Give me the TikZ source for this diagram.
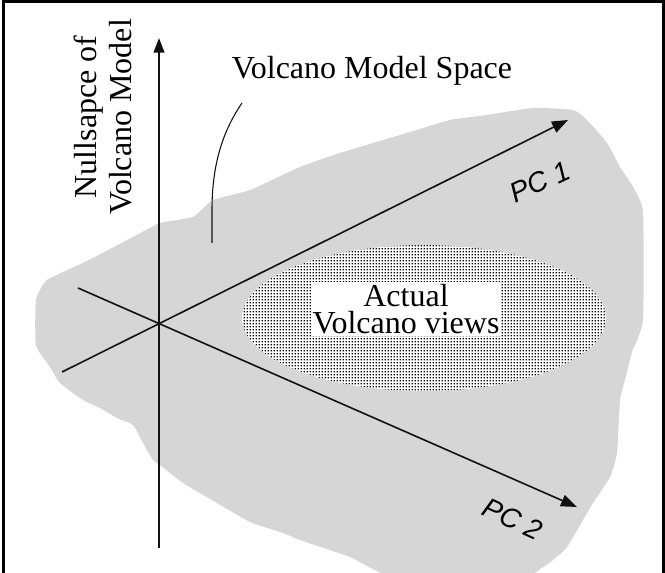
\documentclass[tikz,border=0pt]{standalone}
\usepackage{fontspec}
\setmainfont{Liberation Serif}
\newfontfamily\pcfont{Liberation Sans}
\usepackage{tikz}
\usetikzlibrary{arrows.meta,patterns}
\definecolor{volcgray}{HTML}{D6D6D6}
\definecolor{volcink}{HTML}{111111}
\pgfdeclarepatternformonly{viewdots}{\pgfpointorigin}{\pgfqpoint{2.4pt}{2.4pt}}{\pgfqpoint{2.4pt}{2.4pt}}{%
  \pgfpathrectangle{\pgfqpoint{0.7pt}{0.7pt}}{\pgfqpoint{1pt}{1pt}}\pgfusepath{fill}}
\tikzset{
  frame/.style={line width=2.25pt, draw=black},
  axisline/.style={-{Triangle[length=11pt,width=8pt]}, line width=1.6pt, draw=volcink},
  pcline/.style={-{Triangle[length=12pt,width=9pt]}, line width=1.2pt, draw=volcink},
  leader/.style={line width=0.8pt, draw=volcink},
  bigtext/.style={font=\fontsize{24}{26}\selectfont, align=center, inner sep=1pt},
  viewtext/.style={font=\fontsize{24}{20.5}\selectfont, align=center, inner sep=1.5pt, fill=white},
  pctext/.style={font=\pcfont\itshape\fontsize{21}{24}\selectfont, inner sep=1pt}
}

\begin{document}
\begin{tikzpicture}[x=0.75pt, y=-0.75pt]
\useasboundingbox (0,0) rectangle (665,573);
\fill[white] (0,0) rectangle (665,573);

\fill[volcgray] plot[smooth cycle, tension=0.3] coordinates {
  (36,345) (36,300) (47,280) (83,263) (133,237) (160,223) (193,217) (213,200)
  (250,190) (300,167) (340,153) (410,132) (450,120) (487,115) (533,108) (573,110)
  (587,120) (607,143) (620,167) (633,187) (643,212) (643,320) (632,352) (625,380)
  (620,400) (617,453) (610,477) (593,503) (583,520) (567,547) (553,560) (533,574)
  (520,580) (400,580) (350,557) (300,540) (283,533) (250,522) (217,503) (183,483)
  (160,465) (153,460) (143,443) (133,425) (117,418) (100,408) (83,400) (60,383)
  (50,367)};

\path[fill=white, postaction={pattern=viewdots, pattern color=black}] (424,318) ellipse [x radius=182, y radius=73];

\coordinate (nullbot) at (159,548);
\coordinate (nulltop) at (159,38);
\coordinate (pc1start) at (62,372);
\coordinate (pc1end) at (568,120);
\coordinate (pc2start) at (78,288);
\coordinate (pc2end) at (577,507);
\coordinate (leadbot) at (212,243);
\coordinate (leadmid) at (212,210);
\coordinate (leadtop) at (242,103);

\node[bigtext, rotate=90] (nulllabel) at (103,117) {Nullsapce of\\Volcano Model};
\node[bigtext] (spacelabel) at (372,71) {Volcano Model Space};
\node[viewtext] (viewslabel) at (406,309) {Actual\\Volcano views};
\node[pctext, rotate=25] (pc1label) at (540,182) {PC 1};
\node[pctext, rotate=-25] (pc2label) at (513,519) {PC 2};

\draw[axisline] (nullbot) -- (nulltop);
\draw[pcline] (pc1start) -- (pc1end);
\draw[pcline] (pc2start) -- (pc2end);
\draw[leader] (leadbot) -- (leadmid) .. controls (212,160) and (225,128) .. (leadtop);

\draw[frame] (3.5,573) -- (3.5,1.5) -- (663.5,1.5) -- (663.5,573);
\end{tikzpicture}
\end{document}
